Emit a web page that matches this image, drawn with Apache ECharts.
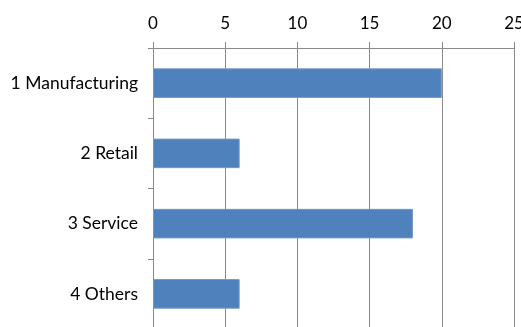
<!DOCTYPE html>
<html>
<head>
<meta charset="UTF-8">
<script src="https://cdn.jsdelivr.net/npm/echarts@6/dist/echarts.min.js"></script>
<style>
  html, body { margin: 0; padding: 0; background: #fff; }
  #main { width: 521px; height: 327px; }
</style>
</head>
<body>
<div id="main"></div>
<script>
// categories top to bottom
var categories = ['1 Manufacturing', '2 Retail', '3 Service', '4 Others'];
var values = [20, 6, 18, 6];
var xTicks = { min: 0, max: 25, interval: 5 };

var chart = echarts.init(document.getElementById('main'));
var lineColor = '#8a8a8a';
var font = 'Lato, "Open Sans", sans-serif';

chart.setOption({
  animation: false,
  grid: { left: 153, right: 7, top: 48, height: 281, containLabel: false, outerBoundsMode: 'none' },
  xAxis: {
    type: 'value',
    position: 'top',
    min: xTicks.min,
    max: xTicks.max,
    interval: xTicks.interval,
    axisLine: { show: true, lineStyle: { color: lineColor, width: 1 } },
    axisTick: { show: true, length: 6, lineStyle: { color: lineColor } },
    splitLine: { show: true, lineStyle: { color: lineColor, width: 1 } },
    axisLabel: { color: '#000', fontSize: 17, fontFamily: font, margin: 16 }
  },
  yAxis: {
    type: 'category',
    inverse: true,
    data: categories,
    axisLine: { show: true, lineStyle: { color: lineColor, width: 1 } },
    axisTick: { show: true, length: 5, lineStyle: { color: lineColor } },
    axisLabel: { color: '#000', fontSize: 17.5, fontFamily: font, margin: 15 }
  },
  series: [{
    type: 'bar',
    data: values,
    barCategoryGap: '58%',
    itemStyle: { color: '#4f81bd', borderColor: '#6f97c8', borderWidth: 1 }
  }]
});
</script>
</body>
</html>
